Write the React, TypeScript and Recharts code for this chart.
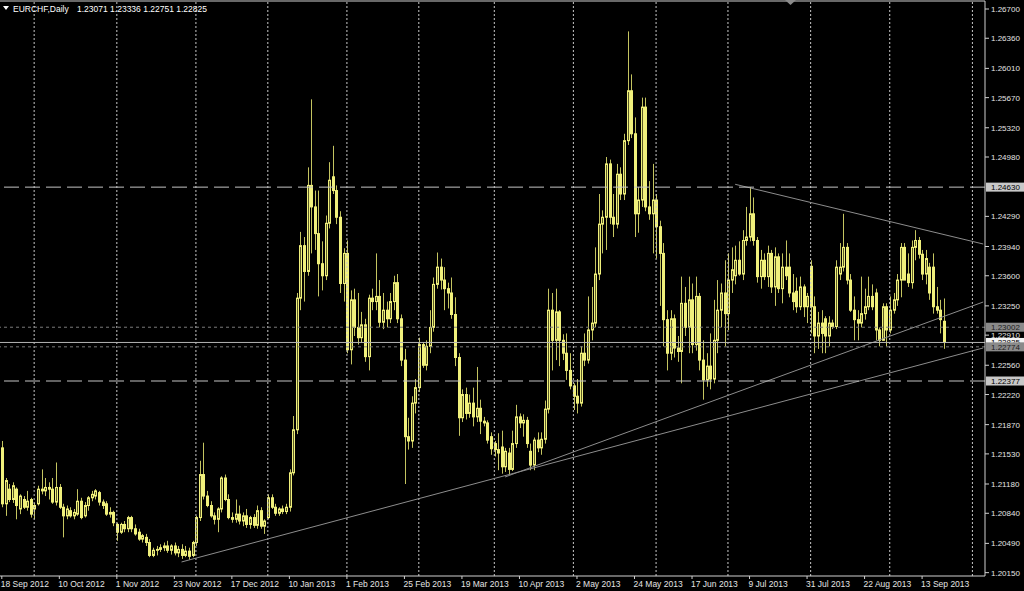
import { ComposedChart, Bar, XAxis, YAxis, ReferenceLine } from 'recharts';

// EURCHF daily candles (bar 0 = 18 Sep 2012)
const opens = [
  1.2160, 1.2095, 1.2112, 1.2100, 1.2112, 1.2089, 1.2100, 1.2091, 1.2100, 1.2089,
  1.2095, 1.2112, 1.2110, 1.2114, 1.2112, 1.2097, 1.2114, 1.2091, 1.2081, 1.2087,
  1.2081, 1.2083, 1.2098, 1.2081, 1.2093, 1.2102, 1.2104, 1.2108, 1.2097, 1.2095,
  1.2083, 1.2085, 1.2071, 1.2062, 1.2071, 1.2066, 1.2079, 1.2066, 1.2062, 1.2054,
  1.2056, 1.2050, 1.2035, 1.2041, 1.2042, 1.2044, 1.2046, 1.2041, 1.2046, 1.2038,
  1.2042, 1.2035, 1.2040, 1.2035, 1.2050, 1.2079, 1.2129, 1.2104, 1.2093, 1.2081,
  1.2077, 1.2089, 1.2125, 1.2100, 1.2079, 1.2077, 1.2083, 1.2075, 1.2081, 1.2071,
  1.2079, 1.2070, 1.2087, 1.2069, 1.2079, 1.2102, 1.2091, 1.2084, 1.2089, 1.2086,
  1.2091, 1.2131, 1.2181, 1.2334, 1.2395, 1.2365, 1.2465, 1.2440, 1.2409, 1.2374,
  1.2360, 1.2421, 1.2475, 1.2459, 1.2428, 1.2351, 1.2386, 1.2274, 1.2332, 1.2300,
  1.2288, 1.2303, 1.2266, 1.2334, 1.2330, 1.2336, 1.2306, 1.2320, 1.2310, 1.2330,
  1.2352, 1.2310, 1.2262, 1.2173, 1.2168, 1.2212, 1.2230, 1.2280, 1.2256, 1.2278,
  1.2300, 1.2350, 1.2370, 1.2355, 1.2345, 1.2340, 1.2315, 1.2265, 1.2195, 1.2222,
  1.2200, 1.2212, 1.2196, 1.2206, 1.2191, 1.2189, 1.2173, 1.2165, 1.2158, 1.2161,
  1.2138, 1.2154, 1.2135, 1.2165, 1.2196, 1.2189, 1.2192, 1.2156, 1.2140, 1.2169,
  1.2160, 1.2170, 1.2205, 1.2320, 1.2285, 1.2318, 1.2285, 1.2270, 1.2250, 1.2232,
  1.2220, 1.2212, 1.2270, 1.2262, 1.2297, 1.2305, 1.2362, 1.2420, 1.2428, 1.2490,
  1.2428, 1.2420, 1.2478, 1.2455, 1.2517, 1.2575, 1.2525, 1.2432, 1.2448, 1.2556,
  1.2440, 1.2432, 1.2448, 1.2417, 1.2386, 1.2309, 1.2270, 1.2310, 1.2276, 1.2272,
  1.2328, 1.2300, 1.2332, 1.2280, 1.2336, 1.2262, 1.2239, 1.2255, 1.2240, 1.2285,
  1.2320, 1.2340, 1.2316, 1.2355, 1.2360, 1.2378, 1.2362, 1.2401, 1.2405, 1.2432,
  1.2401, 1.2359, 1.2378, 1.2359, 1.2386, 1.2347, 1.2382, 1.2345, 1.2370, 1.2370,
  1.2340, 1.2342, 1.2324, 1.2347, 1.2324, 1.2371, 1.2324, 1.2290, 1.2305, 1.2310,
  1.2290, 1.2305, 1.2301, 1.2362, 1.2370, 1.2393, 1.2355, 1.2320, 1.2309, 1.2305,
  1.2316, 1.2324, 1.2336, 1.2340, 1.2297, 1.2285, 1.2324, 1.2297, 1.2320, 1.2332,
  1.2355, 1.2393, 1.2362, 1.2352, 1.2393, 1.2401, 1.2385, 1.2362, 1.2370, 1.2370,
  1.2324, 1.2320, 1.23071,
];
const highs = [
  1.2168, 1.2125, 1.2118, 1.2120, 1.2114, 1.2106, 1.2104, 1.2110, 1.2102, 1.2096,
  1.2116, 1.2135, 1.2125, 1.2120, 1.2125, 1.2143, 1.2118, 1.2095, 1.2093, 1.2091,
  1.2089, 1.2112, 1.2102, 1.2097, 1.2104, 1.2110, 1.2112, 1.2110, 1.2100, 1.2098,
  1.2091, 1.2087, 1.2073, 1.2073, 1.2075, 1.2081, 1.2081, 1.2071, 1.2066, 1.2060,
  1.2060, 1.2054, 1.2044, 1.2046, 1.2048, 1.2050, 1.2052, 1.2048, 1.2050, 1.2046,
  1.2048, 1.2046, 1.2044, 1.2052, 1.2081, 1.2145, 1.2166, 1.2110, 1.2098, 1.2085,
  1.2091, 1.2127, 1.2129, 1.2106, 1.2085, 1.2100, 1.2093, 1.2085, 1.2089, 1.2081,
  1.2083, 1.2093, 1.2091, 1.2077, 1.2106, 1.2106, 1.2095, 1.2091, 1.2093, 1.2095,
  1.2135, 1.2197, 1.2340, 1.2411, 1.2405, 1.2486, 1.2565, 1.2459, 1.2459, 1.2400,
  1.2430, 1.2492, 1.2511, 1.2465, 1.2435, 1.2392, 1.2401, 1.2343, 1.2345, 1.2340,
  1.2318, 1.2310, 1.2338, 1.2345, 1.2386, 1.2355, 1.2340, 1.2330, 1.2340, 1.2360,
  1.2362, 1.2315, 1.2275, 1.2195, 1.2220, 1.2240, 1.2288, 1.2283, 1.2285, 1.2320,
  1.2358, 1.2387, 1.2380, 1.2370, 1.2352, 1.2358, 1.2335, 1.2270, 1.2228, 1.2230,
  1.2222, 1.2230, 1.2254, 1.2216, 1.2196, 1.2192, 1.2178, 1.2168, 1.2177, 1.2180,
  1.2160, 1.2160, 1.2180, 1.2210, 1.2200, 1.2199, 1.2196, 1.2165, 1.2172, 1.2178,
  1.2178, 1.2215, 1.2345, 1.2340, 1.2345, 1.2320, 1.2292, 1.2293, 1.2270, 1.2235,
  1.2240, 1.2278, 1.2293, 1.2336, 1.2347, 1.2393, 1.2455, 1.2436, 1.2498, 1.2495,
  1.2455, 1.2490, 1.2486, 1.2525, 1.2644, 1.2594, 1.2544, 1.2463, 1.2567, 1.2567,
  1.2470, 1.2490, 1.2455, 1.2424, 1.2398, 1.2320, 1.2320, 1.2315, 1.2290, 1.2359,
  1.2347, 1.2359, 1.2351, 1.2359, 1.2340, 1.2285, 1.2270, 1.2293, 1.2332, 1.2355,
  1.2351, 1.2378, 1.2386, 1.2393, 1.2395, 1.2400, 1.2413, 1.2440, 1.2463, 1.2451,
  1.2405, 1.2390, 1.2386, 1.2395, 1.2390, 1.2393, 1.2386, 1.2386, 1.2401, 1.2386,
  1.2362, 1.2358, 1.2359, 1.2350, 1.2340, 1.2378, 1.2336, 1.2318, 1.2320, 1.2313,
  1.2313, 1.2309, 1.2378, 1.2398, 1.2432, 1.2398, 1.2362, 1.2336, 1.2320, 1.2359,
  1.2345, 1.2359, 1.2350, 1.2345, 1.2300, 1.2328, 1.2328, 1.2336, 1.2340, 1.2362,
  1.2398, 1.2398, 1.2386, 1.2401, 1.2413, 1.2405, 1.2390, 1.2390, 1.2375, 1.2386,
  1.2347, 1.2332, 1.23336,
];
const lows = [
  1.2091, 1.2081, 1.2097, 1.2096, 1.2077, 1.2083, 1.2089, 1.2087, 1.2079, 1.2077,
  1.2093, 1.2106, 1.2104, 1.2100, 1.2095, 1.2093, 1.2089, 1.2056, 1.2077, 1.2079,
  1.2077, 1.2081, 1.2077, 1.2079, 1.2087, 1.2098, 1.2100, 1.2093, 1.2089, 1.2081,
  1.2079, 1.2069, 1.2052, 1.2060, 1.2062, 1.2062, 1.2062, 1.2058, 1.2052, 1.2050,
  1.2046, 1.2033, 1.2033, 1.2035, 1.2039, 1.2040, 1.2038, 1.2036, 1.2035, 1.2033,
  1.2031, 1.2033, 1.2030, 1.2033, 1.2046, 1.2075, 1.2100, 1.2091, 1.2079, 1.2071,
  1.2062, 1.2085, 1.2098, 1.2077, 1.2073, 1.2073, 1.2071, 1.2069, 1.2067, 1.2066,
  1.2067, 1.2066, 1.2066, 1.2060, 1.2077, 1.2089, 1.2081, 1.2081, 1.2083, 1.2083,
  1.2086, 1.2128, 1.2176, 1.2320, 1.2330, 1.2360, 1.2386, 1.2390, 1.2336, 1.2343,
  1.2355, 1.2415, 1.2455, 1.2420, 1.2340, 1.2330, 1.2270, 1.2257, 1.2290, 1.2280,
  1.2282, 1.2260, 1.2250, 1.2320, 1.2320, 1.2300, 1.2298, 1.2300, 1.2305, 1.2320,
  1.2305, 1.2255, 1.2118, 1.2158, 1.2160, 1.2200, 1.2225, 1.2253, 1.2250, 1.2270,
  1.2295, 1.2345, 1.2344, 1.2320, 1.2322, 1.2310, 1.2255, 1.2174, 1.2190, 1.2193,
  1.2195, 1.2185, 1.2190, 1.2176, 1.2185, 1.2165, 1.2152, 1.2150, 1.2134, 1.2130,
  1.2132, 1.2129, 1.2133, 1.2160, 1.2183, 1.2173, 1.2160, 1.2134, 1.2134, 1.2155,
  1.2152, 1.2165, 1.2200, 1.2250, 1.2262, 1.2255, 1.2262, 1.2239, 1.2228, 1.2204,
  1.2200, 1.2208, 1.2255, 1.2258, 1.2285, 1.2300, 1.2355, 1.2386, 1.2390, 1.2420,
  1.2405, 1.2415, 1.2448, 1.2448, 1.2512, 1.2520, 1.2405, 1.2410, 1.2440, 1.2435,
  1.2425, 1.2386, 1.2380, 1.2325, 1.2278, 1.2250, 1.2262, 1.2265, 1.2260, 1.2235,
  1.2290, 1.2270, 1.2270, 1.2273, 1.2250, 1.2216, 1.2231, 1.2228, 1.2235, 1.2270,
  1.2300, 1.2278, 1.2297, 1.2340, 1.2350, 1.2360, 1.2355, 1.2395, 1.2400, 1.2395,
  1.2352, 1.2345, 1.2355, 1.2347, 1.2340, 1.2325, 1.2340, 1.2328, 1.2355, 1.2335,
  1.2320, 1.2317, 1.2320, 1.2312, 1.2305, 1.2293, 1.2270, 1.2275, 1.2270, 1.2270,
  1.2278, 1.2298, 1.2298, 1.2355, 1.2365, 1.2350, 1.2318, 1.2285, 1.2285, 1.2300,
  1.2309, 1.2320, 1.2320, 1.2285, 1.2278, 1.2285, 1.2278, 1.2293, 1.2316, 1.2325,
  1.2335, 1.2355, 1.2347, 1.2345, 1.2378, 1.2380, 1.2355, 1.2350, 1.2332, 1.2316,
  1.2316, 1.2293, 1.22751,
];
const closes = [
  1.2095, 1.2122, 1.2100, 1.2116, 1.2093, 1.2104, 1.2091, 1.2098, 1.2083, 1.2093,
  1.2112, 1.2110, 1.2114, 1.2112, 1.2097, 1.2114, 1.2091, 1.2081, 1.2089, 1.2081,
  1.2085, 1.2098, 1.2079, 1.2093, 1.2102, 1.2106, 1.2110, 1.2097, 1.2093, 1.2083,
  1.2085, 1.2073, 1.2062, 1.2071, 1.2066, 1.2079, 1.2066, 1.2060, 1.2054, 1.2058,
  1.2050, 1.2035, 1.2041, 1.2042, 1.2044, 1.2046, 1.2041, 1.2046, 1.2038, 1.2042,
  1.2035, 1.2040, 1.2034, 1.2050, 1.2079, 1.2129, 1.2104, 1.2093, 1.2081, 1.2077,
  1.2089, 1.2125, 1.2100, 1.2079, 1.2077, 1.2083, 1.2075, 1.2081, 1.2071, 1.2079,
  1.2070, 1.2087, 1.2069, 1.2075, 1.2102, 1.2091, 1.2084, 1.2089, 1.2086, 1.2091,
  1.2131, 1.2181, 1.2334, 1.2395, 1.2365, 1.2465, 1.2440, 1.2409, 1.2374, 1.2360,
  1.2421, 1.2471, 1.2459, 1.2428, 1.2351, 1.2386, 1.2274, 1.2332, 1.2300, 1.2288,
  1.2303, 1.2266, 1.2334, 1.2330, 1.2336, 1.2306, 1.2320, 1.2310, 1.2330, 1.2352,
  1.2310, 1.2262, 1.2173, 1.2168, 1.2212, 1.2230, 1.2280, 1.2256, 1.2278, 1.2300,
  1.2350, 1.2370, 1.2355, 1.2345, 1.2340, 1.2315, 1.2265, 1.2195, 1.2222, 1.2200,
  1.2212, 1.2196, 1.2206, 1.2191, 1.2189, 1.2169, 1.2159, 1.2158, 1.2154, 1.2138,
  1.2156, 1.2135, 1.2165, 1.2196, 1.2189, 1.2192, 1.2165, 1.2140, 1.2169, 1.2160,
  1.2170, 1.2205, 1.2320, 1.2285, 1.2318, 1.2285, 1.2270, 1.2250, 1.2232, 1.2220,
  1.2212, 1.2270, 1.2262, 1.2297, 1.2305, 1.2362, 1.2420, 1.2428, 1.2490, 1.2428,
  1.2420, 1.2478, 1.2455, 1.2517, 1.2575, 1.2525, 1.2432, 1.2448, 1.2556, 1.2440,
  1.2432, 1.2448, 1.2417, 1.2386, 1.2309, 1.2270, 1.2310, 1.2276, 1.2272, 1.2328,
  1.2300, 1.2332, 1.2280, 1.2336, 1.2262, 1.2239, 1.2255, 1.2240, 1.2285, 1.2320,
  1.2340, 1.2316, 1.2355, 1.2367, 1.2378, 1.2362, 1.2401, 1.2405, 1.2432, 1.2401,
  1.2359, 1.2378, 1.2359, 1.2386, 1.2347, 1.2382, 1.2345, 1.2370, 1.2360, 1.2340,
  1.2330, 1.2324, 1.2347, 1.2324, 1.2336, 1.2324, 1.2290, 1.2305, 1.2293, 1.2290,
  1.2305, 1.2301, 1.2370, 1.2370, 1.2393, 1.2355, 1.2320, 1.2309, 1.2305, 1.2316,
  1.2324, 1.2336, 1.2324, 1.2297, 1.2285, 1.2324, 1.2297, 1.2320, 1.2332, 1.2355,
  1.2393, 1.2355, 1.2352, 1.2393, 1.2401, 1.2385, 1.2362, 1.2380, 1.2340, 1.2324,
  1.2320, 1.2309, 1.22825,
];

// x axis: every 16th bar carries a date
const dateTicks = [0, 16, 32, 48, 64, 80, 96, 112, 128, 144, 160, 176, 192, 208, 224, 240, 256];
const dateLabels = [
  '18 Sep 2012', '10 Oct 2012', '1 Nov 2012', '23 Nov 2012', '17 Dec 2012', '10 Jan 2013',
  '1 Feb 2013', '25 Feb 2013', '19 Mar 2013', '10 Apr 2013', '2 May 2013', '24 May 2013',
  '17 Jun 2013', '9 Jul 2013', '31 Jul 2013', '22 Aug 2013', '13 Sep 2013',
];
const priceTicks = [
  1.267, 1.2636, 1.2601, 1.2567, 1.2532, 1.2498, 1.2429, 1.2394, 1.236, 1.2325,
  1.2291, 1.2256, 1.2222, 1.2187, 1.2153, 1.2118, 1.2084, 1.2049, 1.2015,
];
// month separators (bar index)
const monthBars = [9, 32, 54, 74, 96, 116, 137, 159, 182, 202, 225, 247, 270];
// horizontal levels
const dashLevels = [1.2463, 1.22377];
const dotLevels = [1.23002, 1.22774];
const bidPrice = 1.22825;
// trend lines: [bar, price, bar, price]
const trendLines = [
  [50, 1.20274, 273, 1.22761],
  [140, 1.21262, 273, 1.23295],
  [204, 1.24663, 273, 1.23969],
];

const SLOTS = 274; // bars plus the empty shift on the right
const Y_MIN = 1.20111;
const Y_MAX = 1.26793;

const YELLOW = '#f0f07c';
const BULL_FILL = '#5c5c26';
const WICK = '#c4c460';
const AXIS = '#d0d0d0';
const TEXT = '#e4e4e4';
const FONT = '"Liberation Sans", Arial, sans-serif';

const data = Array.from({ length: SLOTS }, (_, i) =>
  i < closes.length
    ? { i, o: opens[i], h: highs[i], l: lows[i], c: closes[i], range: [lows[i], highs[i]] }
    : { i, range: null }
);

function Candle(props: any) {
  const { x, y, width, height, payload } = props;
  if (!payload || payload.o == null || x == null) return null;
  const { o, h, l, c } = payload;
  const top = Math.min(y, y + height);
  const hgt = Math.abs(height);
  const k = h > l ? hgt / (h - l) : 0;
  const n = Math.round(x + width / 2);
  const bTop = top + (h - Math.max(o, c)) * k;
  const bBot = top + (h - Math.min(o, c)) * k;
  const bull = c > o;
  return (
    <g>
      <line x1={n + 0.5} x2={n + 0.5} y1={top} y2={top + hgt} stroke={WICK} strokeWidth={1} />
      <rect
        x={n - 0.5}
        y={bTop}
        width={2}
        height={Math.max(0.5, bBot - bTop)}
        fill={bull ? BULL_FILL : YELLOW}
        stroke={YELLOW}
        strokeWidth={1}
      />
    </g>
  );
}

function DateTick({ x, y, payload }: any) {
  const idx = dateTicks.indexOf(payload.value);
  return (
    <text x={x - 1} y={y + 6} fill={TEXT} fontSize={8.5} fontFamily={FONT} textAnchor="start">
      {dateLabels[idx]}
    </text>
  );
}

function PriceTick({ x, y, payload }: any) {
  return (
    <text x={x} y={y + 3} fill={TEXT} fontSize={8} fontFamily={FONT} textAnchor="start">
      {Number(payload.value).toFixed(5)}
    </text>
  );
}

function PriceTag({ viewBox, text, bg, fg }: any) {
  if (!viewBox) return null;
  const x = viewBox.x + viewBox.width + 1;
  const y = viewBox.y;
  return (
    <g>
      <rect x={x} y={y - 4.5} width={38} height={9} fill={bg} />
      <text x={x + 5} y={y + 3} fill={fg} fontSize={8} fontFamily={FONT}>
        {text}
      </text>
    </g>
  );
}

export default function App() {
  return (
    <div
      style={{
        position: 'fixed',
        left: 0,
        top: 0,
        width: 1024,
        height: 591,
        background: '#000',
        overflow: 'hidden',
      }}
    >
      <ComposedChart
        width={1024}
        height={591}
        data={data}
        margin={{ top: 1, right: 0, bottom: 0, left: 0 }}
        barCategoryGap={0}
      >
        <XAxis
          dataKey="i"
          type="category"
          ticks={dateTicks}
          interval={0}
          height={15}
          tickSize={3}
          tickMargin={2}
          tick={<DateTick />}
          tickLine={{ stroke: AXIS }}
          axisLine={{ stroke: AXIS }}
        />
        <YAxis
          orientation="right"
          type="number"
          domain={[Y_MIN, Y_MAX]}
          allowDataOverflow
          ticks={priceTicks}
          interval={0}
          width={39}
          tickSize={4}
          tickMargin={2}
          tick={<PriceTick />}
          tickLine={{ stroke: AXIS }}
          axisLine={{ stroke: AXIS }}
        />
        {monthBars.map((b) => (
          <ReferenceLine key={'m' + b} x={b} stroke="#c8c8c8" strokeDasharray="2 2" />
        ))}
        <ReferenceLine y={Y_MAX} stroke={AXIS} />
        <Bar dataKey="range" shape={<Candle />} isAnimationActive={false} />
        {trendLines.map(([x1, y1, x2, y2], k) => (
          <ReferenceLine
            key={'t' + k}
            segment={[{ x: x1, y: y1 }, { x: x2, y: y2 }]}
            stroke="#8c8c8c"
          />
        ))}
        {dashLevels.map((p) => (
          <ReferenceLine
            key={'d' + p}
            y={p}
            stroke="#c4c4c4"
            strokeDasharray="15 6"
            label={<PriceTag text={p.toFixed(5)} bg="#c8c8c8" fg="#000" />}
          />
        ))}
        <ReferenceLine
          y={dotLevels[0]}
          stroke="#7a7a7a"
          strokeDasharray="3 3"
          label={<PriceTag text={dotLevels[0].toFixed(5)} bg="#8a8a8a" fg="#202020" />}
        />
        <ReferenceLine
          y={bidPrice}
          stroke="#b4b4b4"
          label={<PriceTag text={bidPrice.toFixed(5)} bg="#f4f4f4" fg="#000" />}
        />
        <ReferenceLine
          y={dotLevels[1]}
          stroke="#7a7a7a"
          strokeDasharray="3 3"
          label={<PriceTag text={dotLevels[1].toFixed(5)} bg="#8a8a8a" fg="#202020" />}
        />
      </ComposedChart>
      <svg
        width={1024}
        height={20}
        style={{ position: 'absolute', left: 0, top: 0, pointerEvents: 'none' }}
      >
        <polygon points="3,6 9,6 6,10" fill="#ffffff" />
        <text x={13} y={12} fill="#ffffff" fontSize={8.5} fontFamily={FONT}>
          EURCHF,Daily
        </text>
        <text x={77} y={12} fill="#ffffff" fontSize={8.5} fontFamily={FONT}>
          1.23071 1.23336 1.22751 1.22825
        </text>
        <polygon points="785,0 796,0 790.5,5" fill="#8a8a8a" />
      </svg>
    </div>
  );
}
